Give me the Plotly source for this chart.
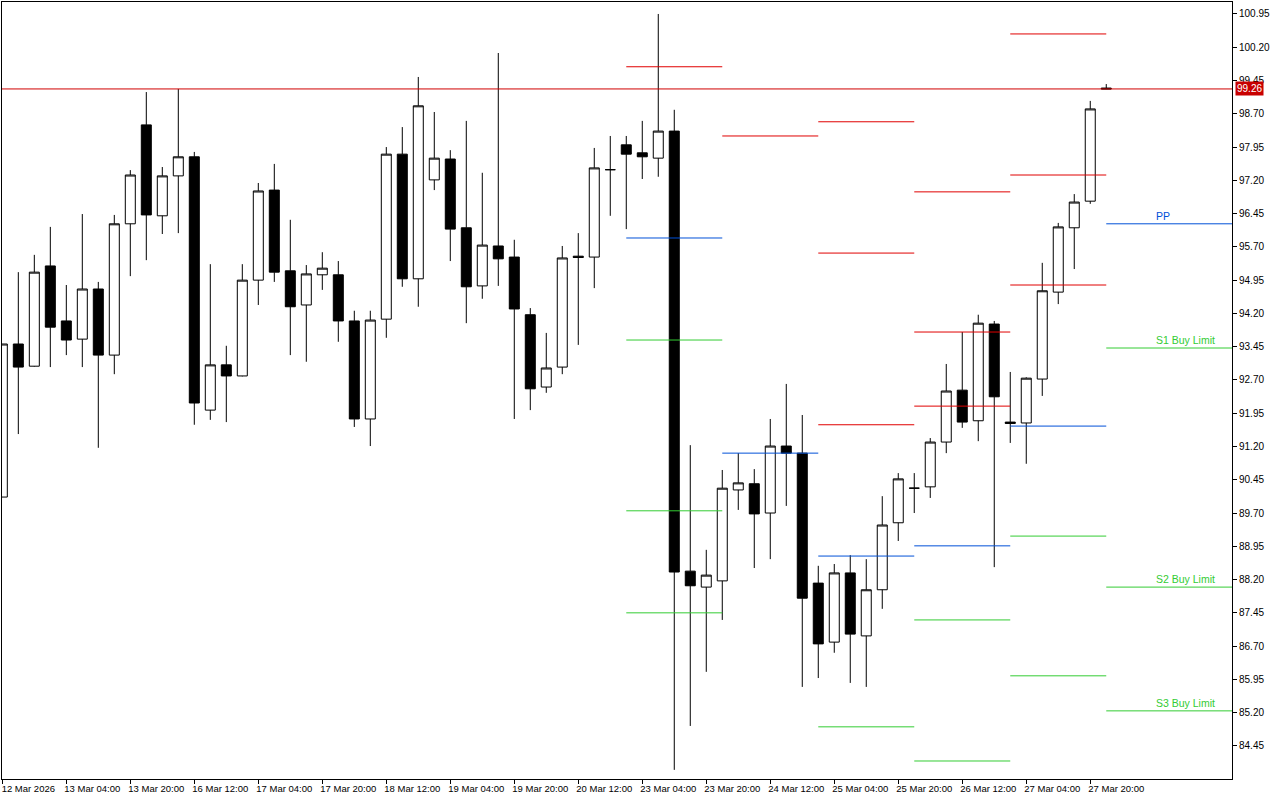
import plotly.graph_objects as go

# H4 bars, bar 0 = 12 Mar 2026 12:00 (broker time)
opens = [90.06, 93.51, 93.01, 95.27, 94.03, 93.62, 94.75, 93.26, 96.22, 98.45,
         96.40, 97.30, 97.73, 92.02, 93.04, 92.79, 94.95, 96.98, 95.16, 94.39,
         95.07, 95.07, 94.03, 91.82, 94.07, 97.79, 94.98, 97.21, 97.68, 96.13,
         94.82, 95.72, 95.47, 94.17, 92.54, 92.99, 95.49, 95.47, 97.44, 98.00,
         97.82, 97.70, 98.31, 88.39, 88.03, 88.17, 90.22, 90.36, 89.70, 91.21,
         91.05, 88.12, 86.79, 88.35, 86.93, 87.97, 89.48, 90.26, 90.29, 91.30,
         92.47, 91.78, 93.96, 91.75, 91.73, 92.72, 94.68, 96.13, 96.73, 99.28]
highs = [93.51, 95.13, 95.52, 96.15, 94.84, 96.44, 94.91, 96.42, 97.43, 99.19,
         97.50, 99.26, 97.84, 95.31, 93.47, 95.31, 97.14, 97.57, 96.31, 95.29,
         95.58, 95.38, 94.26, 94.26, 97.95, 98.40, 99.53, 98.74, 97.88, 98.54,
         97.37, 100.07, 95.86, 94.32, 93.76, 95.72, 96.01, 97.93, 98.20, 98.20,
         98.54, 100.95, 98.79, 91.23, 88.87, 90.67, 91.05, 90.69, 91.82, 92.61,
         91.91, 88.51, 88.55, 88.75, 88.66, 90.08, 90.60, 90.60, 91.39, 93.06,
         93.78, 94.17, 94.03, 92.88, 92.76, 95.34, 96.24, 96.89, 98.99, 99.37]
lows = [90.06, 91.48, 93.00, 92.99, 93.26, 92.99, 91.17, 92.83, 95.04, 95.40,
        95.99, 96.01, 91.69, 91.80, 91.75, 92.78, 94.39, 94.91, 93.26, 93.11,
        94.73, 93.56, 91.64, 91.21, 93.65, 94.80, 94.35, 96.98, 95.38, 93.98,
        94.53, 94.82, 91.82, 92.02, 92.41, 92.83, 93.49, 94.77, 96.40, 96.10,
        97.23, 97.28, 83.91, 84.90, 86.12, 87.29, 89.77, 88.46, 88.66, 89.86,
        85.78, 85.98, 86.55, 85.87, 85.78, 87.54, 89.07, 89.70, 90.04, 91.05,
        91.62, 91.32, 88.48, 91.28, 90.81, 92.34, 94.41, 95.20, 96.67, 99.26]
closes = [93.51, 92.99, 95.13, 93.89, 93.60, 94.75, 93.26, 96.22, 97.32, 96.42,
          97.30, 97.73, 92.18, 93.04, 92.79, 94.95, 96.96, 95.13, 94.35, 95.09,
          95.22, 94.03, 91.82, 94.05, 97.79, 94.98, 98.88, 97.70, 96.10, 94.80,
          95.74, 95.43, 94.30, 92.50, 92.97, 95.45, 95.46, 97.48, 97.44, 97.79,
          97.73, 98.31, 88.37, 88.06, 88.30, 90.26, 90.38, 89.68, 91.21, 91.05,
          87.78, 86.75, 88.35, 86.97, 87.97, 89.43, 90.47, 90.26, 91.30, 92.45,
          91.75, 93.98, 92.32, 91.72, 92.74, 94.71, 96.15, 96.71, 98.81, 99.26]

tick_bars = [0, 4, 8, 12, 16, 20, 24, 28, 32, 36, 40, 44, 48, 52, 56, 60, 64, 68]
tick_labels = ["12 Mar 2026", "13 Mar 04:00", "13 Mar 20:00", "16 Mar 12:00",
               "17 Mar 04:00", "17 Mar 20:00", "18 Mar 12:00", "19 Mar 04:00",
               "19 Mar 20:00", "20 Mar 12:00", "23 Mar 04:00", "23 Mar 20:00",
               "24 Mar 12:00", "25 Mar 04:00", "25 Mar 20:00", "26 Mar 12:00",
               "27 Mar 04:00", "27 Mar 20:00"]

bid = 99.26

# daily pivot levels, each drawn from the first bar of its day
day_starts = [39, 45, 51, 57, 63, 69]
res_levels = [[99.76], [98.20], [98.52, 95.56, 91.69], [96.94, 93.78, 92.11],
              [100.50, 97.32, 94.84], []]
pivot_levels = [95.90, 91.05, 88.73, 88.96, 91.66, 96.22]
sup_levels = [[93.60, 89.75, 87.45], [], [84.88], [87.29, 84.11],
              [89.18, 86.03], [93.42, 88.03, 85.24]]
order_labels = ["S1 Buy Limit", "S2 Buy Limit", "S3 Buy Limit"]

X_MIN, X_MAX = -0.02, 76.86
Y_MIN, Y_MAX = 83.704, 101.22

RED = '#E00000'
BLUE = '#0050D8'
GREEN = '#33CC33'
FONT = 'Liberation Sans'


def segments(levels_by_day):
    xs, ys = [], []
    for i, start in enumerate(day_starts):
        end = day_starts[i + 1] if i + 1 < len(day_starts) else X_MAX
        for lv in levels_by_day[i]:
            xs += [start, end, None]
            ys += [lv, lv, None]
    return xs, ys


fig = go.Figure()
fig.add_trace(go.Candlestick(
    x=list(range(len(opens))), open=opens, high=highs, low=lows, close=closes,
    increasing=dict(line=dict(color='black', width=1), fillcolor='white'),
    decreasing=dict(line=dict(color='black', width=1), fillcolor='black'),
    whiskerwidth=0, showlegend=False, hoverinfo='skip'))

for levels, color in [(res_levels, RED), ([[p] for p in pivot_levels], BLUE), (sup_levels, GREEN)]:
    xs, ys = segments(levels)
    fig.add_trace(go.Scatter(x=xs, y=ys, mode='lines', line=dict(color=color, width=1),
                             showlegend=False, hoverinfo='skip'))

# current bid line + price box on the axis
fig.add_shape(type='line', xref='paper', x0=0, x1=1, yref='y', y0=bid, y1=bid,
              line=dict(color='#D00000', width=1))
fig.add_annotation(xref='paper', x=1, xshift=3, xanchor='left', yref='y', y=bid,
                   text=f"{bid:.2f}", showarrow=False, bgcolor='#C80000', borderpad=1,
                   font=dict(family=FONT, size=10, color='white'))

# labels for today's levels
label_x = 72
fig.add_annotation(x=label_x, y=pivot_levels[-1], xanchor='left', yanchor='bottom', yshift=0,
                   text='PP', showarrow=False, font=dict(family=FONT, size=10.5, color=BLUE))
for lv, txt in zip(sup_levels[-1], order_labels):
    fig.add_annotation(x=label_x, y=lv, xanchor='left', yanchor='bottom', yshift=0,
                       text=txt, showarrow=False, font=dict(family=FONT, size=10.5, color=GREEN))

fig.update_layout(
    width=1280, height=800,
    margin=dict(l=2, r=48, t=2, b=21, pad=0),
    paper_bgcolor='white', plot_bgcolor='white',
    boxgap=0.375, boxgroupgap=0,
    font=dict(family=FONT, size=10, color='black'),
    hovermode=False,
)
fig.update_xaxes(range=[X_MIN, X_MAX], tickvals=tick_bars, ticktext=tick_labels,
                 ticks='outside', ticklen=4, tickcolor='black', ticklabelshift=26,
                 ticklabelstandoff=-3,
                 showline=True, linecolor='black', linewidth=1, mirror=True,
                 showgrid=False, zeroline=False, rangeslider=dict(visible=False),
                 tickfont=dict(family=FONT, size=9.5, color='black'))
fig.update_yaxes(range=[Y_MIN, Y_MAX], side='right', tick0=84.45, dtick=0.75, tickformat='.2f',
                 ticks='outside', ticklen=4, tickcolor='black',
                 showline=True, linecolor='black', linewidth=1, mirror=True,
                 showgrid=False, zeroline=False,
                 tickfont=dict(family=FONT, size=10, color='black'))

fig.write_html("out.html", config={'displayModeBar': False},
               post_script="document.body.style.margin='0';document.body.style.padding='0';")
